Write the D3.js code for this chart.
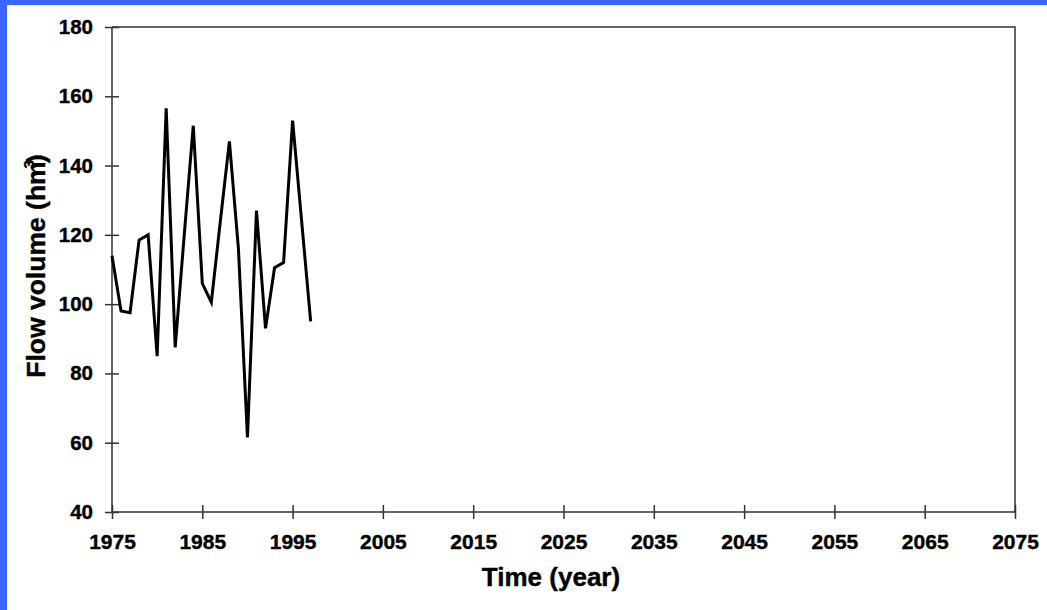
<!DOCTYPE html>
<html>
<head>
<meta charset="utf-8">
<script src="https://cdn.jsdelivr.net/npm/d3@7"></script>
<style>
  html, body { margin: 0; padding: 0; background: #fff; }
  svg { display: block; font-family: "Liberation Sans", Arial, sans-serif; }
</style>
</head>
<body>
<svg></svg>
<script>
let years = [1975, 1976, 1977, 1978, 1979, 1980, 1981, 1982, 1983, 1984, 1985, 1986,
             1987, 1988, 1989, 1990, 1991, 1992, 1993, 1994, 1995, 1996, 1997]
let flows = [114, 98, 97.5, 118.5, 120, 85, 156.5, 87.5, 120, 151.5, 106, 100.5,
             124, 147, 116, 61.5, 127, 93, 110.5, 112, 153, 124, 95]
let xTicks = [1975, 1985, 1995, 2005, 2015, 2025, 2035, 2045, 2055, 2065, 2075]
let yTicks = [40, 60, 80, 100, 120, 140, 160, 180]

let width = 1047
let height = 610
let plotLeft = 112, plotRight = 1015, plotTop = 27, plotBottom = 512

let svg = d3.select('svg').attr('width', width).attr('height', height)

// blue frame on the left and top
svg.append('rect').attr('width', width).attr('height', height).attr('fill', '#3a66ff')
svg.append('rect').attr('x', 7).attr('y', 5).attr('width', width - 7).attr('height', height - 5).attr('fill', '#fff')

let xScale = d3.scaleLinear().domain([1975, 2075]).range([plotLeft, plotRight])
let yScale = d3.scaleLinear().domain([40, 180]).range([plotBottom, plotTop])

// frame (top and right)
svg.append('path')
  .attr('d', `M${plotLeft},${plotTop}H${plotRight}V${plotBottom}`)
  .attr('fill', 'none').attr('stroke', '#333').attr('stroke-width', 1.5)

let xAxis = d3.axisBottom(xScale).tickValues(xTicks).tickFormat(d3.format('d')).tickSize(7).tickPadding(15)
let yAxis = d3.axisLeft(yScale).tickValues(yTicks).tickSize(7).tickPadding(12)

let gx = svg.append('g').attr('transform', `translate(0,${plotBottom})`).call(xAxis)
let gy = svg.append('g').attr('transform', `translate(${plotLeft},0)`).call(yAxis)

gx.selectAll('.tick line').attr('y1', -7).attr('y2', 7)
gy.selectAll('.tick line').attr('x1', 7).attr('x2', -7)
gx.select('.domain').attr('d', `M${plotLeft},0H${plotRight}`)
gy.select('.domain').attr('d', `M0,${plotTop}V${plotBottom}`)

for (let g of [gx, gy]) {
  g.selectAll('path, line').attr('stroke', '#333').attr('stroke-width', 1.5)
  g.selectAll('text').attr('fill', '#000').attr('font-weight', 'bold')
    .attr('font-family', '"Liberation Sans", Arial, sans-serif')
    .attr('stroke', '#000').attr('stroke-width', 0.4)
}
gx.selectAll('text').attr('font-size', 21)
gy.selectAll('text').attr('font-size', 20.5)

// data line
let line = d3.line().x((d, i) => xScale(years[i])).y(d => yScale(d))
svg.append('path')
  .datum(flows)
  .attr('d', line)
  .attr('fill', 'none')
  .attr('stroke', '#000')
  .attr('stroke-width', 3)
  .attr('stroke-linejoin', 'miter')

// axis titles
svg.append('text')
  .attr('x', 551)
  .attr('y', 586)
  .attr('text-anchor', 'middle')
  .attr('font-size', 26)
  .attr('font-weight', 'bold')
  .attr('stroke', '#000').attr('stroke-width', 0.4)
  .text('Time (year)')

let yt = svg.append('text')
  .attr('transform', 'translate(45,266) rotate(-90)')
  .attr('text-anchor', 'middle')
  .attr('font-size', 26.5)
  .attr('font-weight', 'bold')
  .attr('stroke', '#000').attr('stroke-width', 0.4)
yt.append('tspan').text('Flow volume (hm')
yt.append('tspan').attr('font-size', 15).attr('dx', -7).attr('dy', -11).text('3')
yt.append('tspan').attr('dx', -3).attr('dy', 11).text(')')
</script>
</body>
</html>
